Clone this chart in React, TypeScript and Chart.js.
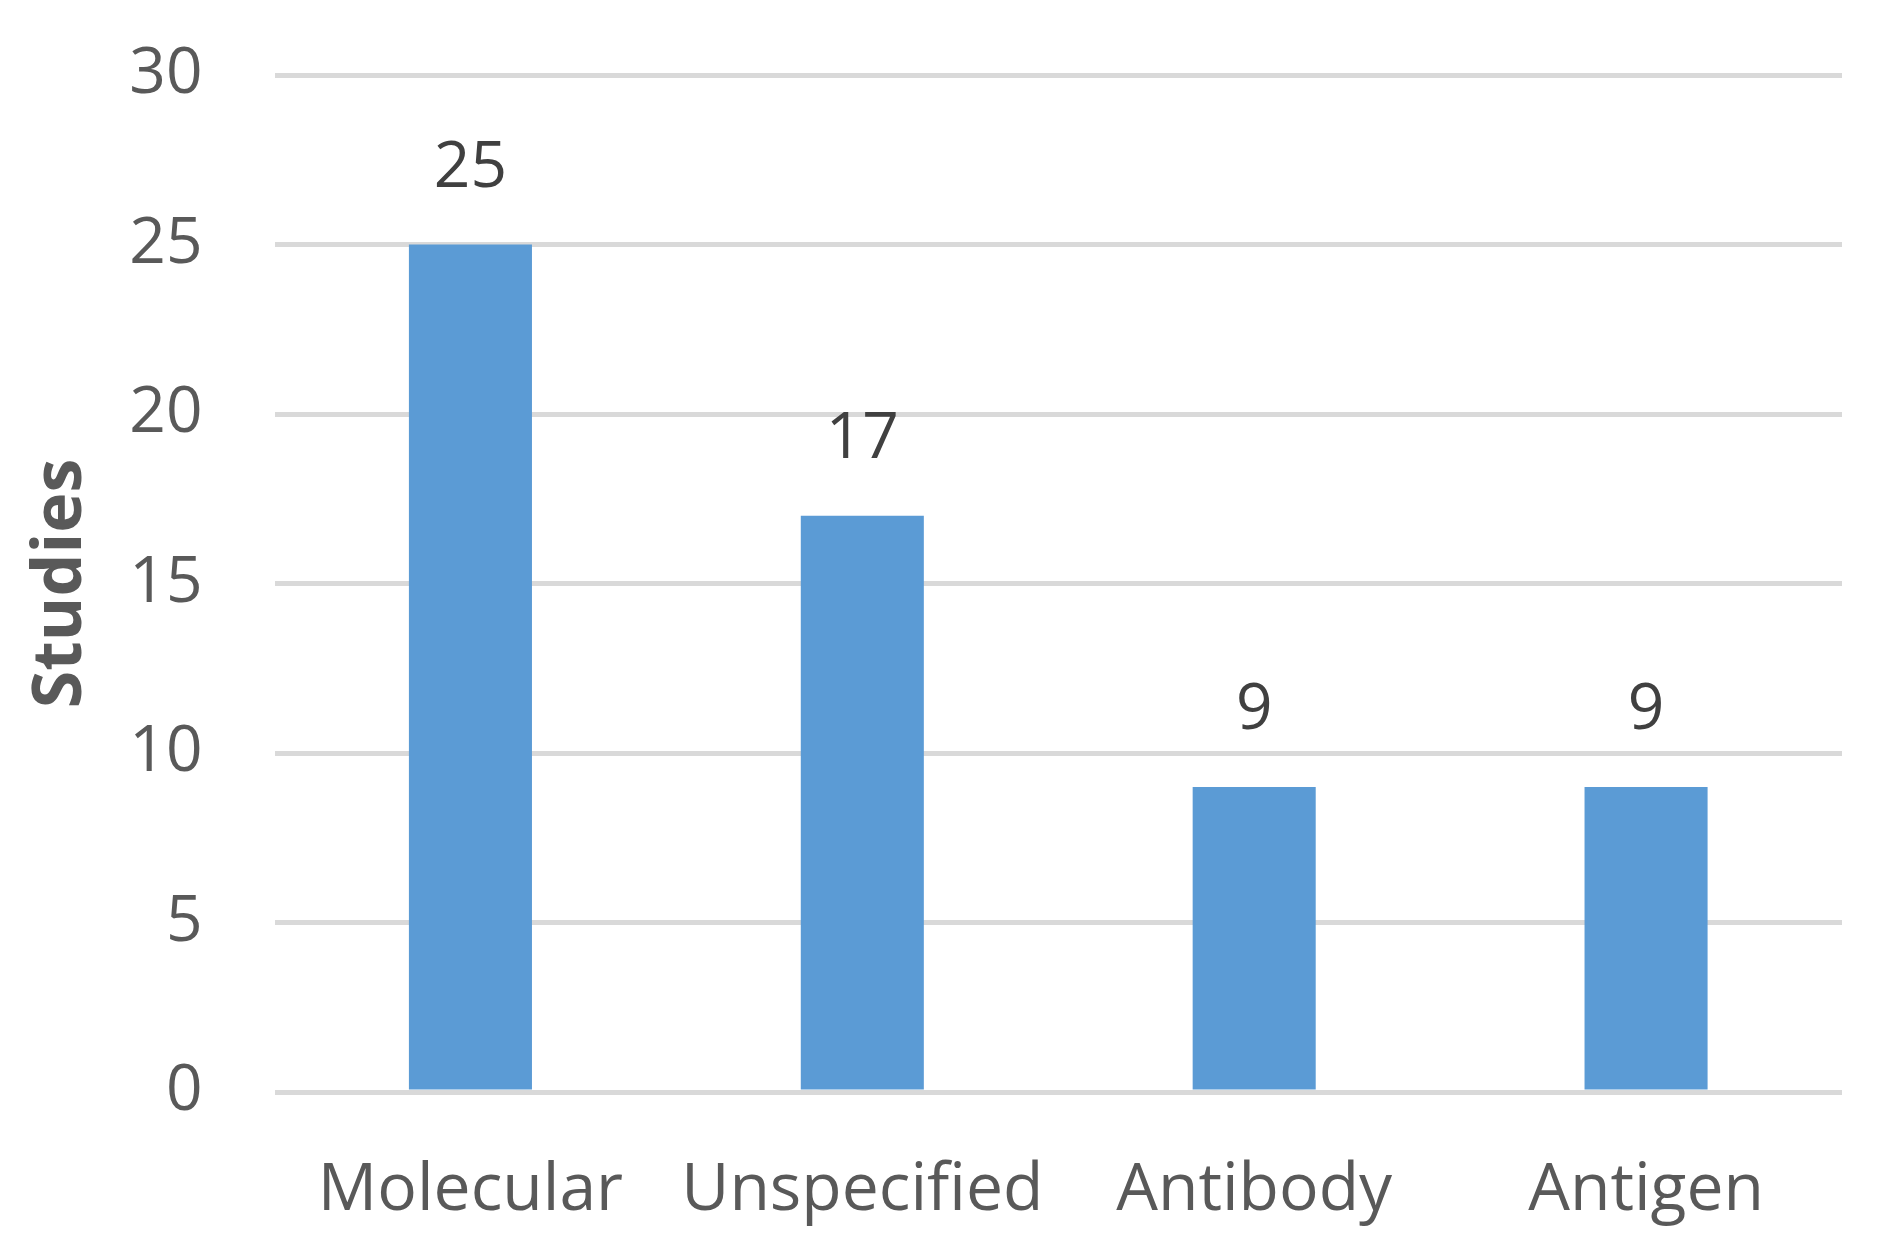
import React, { useEffect, useRef } from "react";
import { Chart, registerables } from "chart.js";

Chart.register(...registerables);

const categories = ["Molecular", "Unspecified", "Antibody", "Antigen"];
const studies = [25, 17, 9, 9];
const yTicks = [0, 5, 10, 15, 20, 25, 30];
const yTitle = "Studies";

const FONT = "'Open Sans', 'Liberation Sans', sans-serif";

const valueLabels = {
  id: "valueLabels",
  afterDatasetsDraw(chart: any) {
    const ctx = chart.ctx;
    ctx.save();
    ctx.font = `64px ${FONT}`;
    ctx.fillStyle = "#404040";
    ctx.textAlign = "center";
    ctx.textBaseline = "alphabetic";
    chart.getDatasetMeta(0).data.forEach((bar: any, i: number) => {
      const v = chart.data.datasets[0].data[i];
      ctx.fillText(String(v), bar.x, bar.y - 58);
    });
    ctx.restore();
  },
};

export default function App() {
  const ref = useRef<HTMLCanvasElement | null>(null);
  useEffect(() => {
    document.body.style.margin = "0";
    if (!ref.current) return;
    const chart = new Chart(ref.current, {
      type: "bar",
      data: {
        labels: categories,
        datasets: [
          {
            data: studies,
            backgroundColor: "#5B9BD5",
            borderWidth: 0,
            categoryPercentage: 1,
            barPercentage: 0.314,
          },
        ],
      },
      options: {
        animation: false,
        responsive: false,
        maintainAspectRatio: false,
        layout: { padding: { top: 75, right: 46, left: 0, bottom: 0 } },
        plugins: { legend: { display: false }, tooltip: { enabled: false }, title: { display: false } },
        scales: {
          x: {
            grid: { display: false, drawTicks: false },
            border: { display: false },
            ticks: {
              color: "#595959",
              font: { family: FONT, size: 66 },
              padding: 60,
              maxRotation: 0,
              autoSkip: false,
            },
            afterFit(scale: any) {
              scale.height = 158;
              scale.paddingLeft = 0;
              scale.paddingRight = 0;
            },
          },
          y: {
            min: 0,
            max: 30,
            afterBuildTicks(scale: any) {
              scale.ticks = yTicks.map((v) => ({ value: v }));
            },
            grid: { color: "#D9D9D9", lineWidth: 5, drawTicks: false },
            border: { display: false },
            ticks: {
              color: "#595959",
              font: { family: FONT, size: 64 },
              padding: 72,
            },
            title: {
              display: true,
              text: yTitle,
              color: "#595959",
              font: { family: FONT, size: 68, weight: "bold" },
              padding: { top: 21, bottom: 0 },
            },
            afterFit(scale: any) {
              scale.width = 274.5;
              scale.paddingTop = 0;
              scale.paddingBottom = 0;
            },
          },
        },
      },
      plugins: [valueLabels],
    });
    return () => chart.destroy();
  }, []);
  return (
    <div style={{ width: 1888, height: 1250, background: "#fff" }}>
      <canvas ref={ref} width={1888} height={1250} style={{ width: 1888, height: 1250, display: "block" }} />
    </div>
  );
}
